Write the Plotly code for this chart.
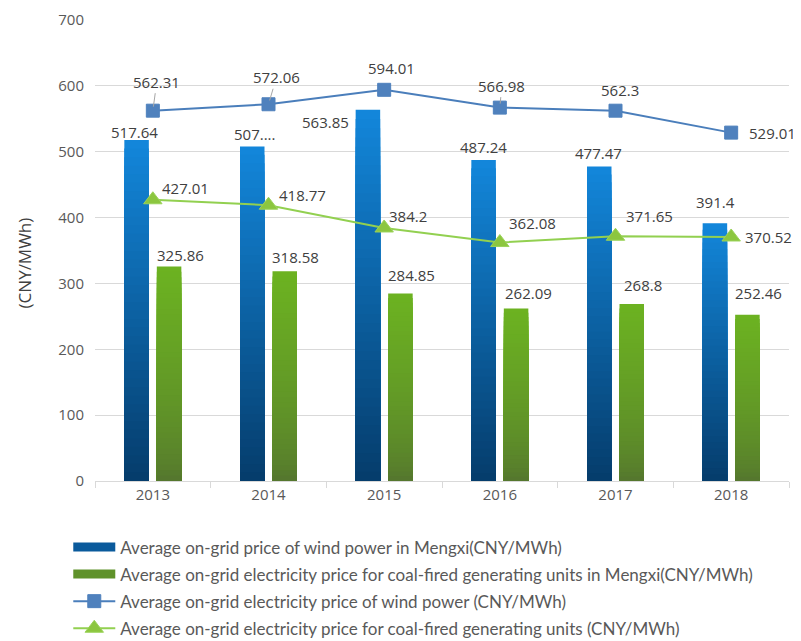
import plotly.graph_objects as go

# ---------------- data ----------------
years = ["2013", "2014", "2015", "2016", "2017", "2018"]
wind_mengxi = [517.64, 507.9, 563.85, 487.24, 477.47, 391.4]
coal_mengxi = [325.86, 318.58, 284.85, 262.09, 268.8, 252.46]
wind_avg = [562.31, 572.06, 594.01, 566.98, 562.3, 529.01]
coal_avg = [427.01, 418.77, 384.2, 362.08, 371.65, 370.52]
wind_mengxi_labels = ["517.64", "507....", "563.85", "487.24", "477.47", "391.4"]

names = [
    "Average on-grid price of wind power in Mengxi(CNY/MWh)",
    "Average on-grid electricity price for coal-fired generating units in Mengxi(CNY/MWh)",
    "Average on-grid electricity price of wind power (CNY/MWh)",
    "Average on-grid electricity price for coal-fired generating units (CNY/MWh)",
]

# ---------------- styling ----------------
LABEL_FONT = dict(family="Open Sans", size=15, color="#404040")
TICK_FONT = dict(family="Open Sans", size=15, color="#595959")
GRID = "#d9d9d9"
N = 40  # gradient bands


def lerp(c1, c2, t):
    a = [int(c1[i:i + 2], 16) for i in (1, 3, 5)]
    b = [int(c2[i:i + 2], 16) for i in (1, 3, 5)]
    return "#%02x%02x%02x" % tuple(round(a[j] + (b[j] - a[j]) * t) for j in range(3))


BLUE_TOP, BLUE_BOT = "#1387db", "#053c6b"
GREEN_TOP, GREEN_BOT = "#6cb221", "#53722f"

fig = go.Figure()


def gradient_bars(values, group, top, bot, ease=1.0):
    # overlapping bars: full bar first (top colour), shorter bars over it
    for i in range(N):
        f = (N - i) / N
        t = ((N - i - 0.5) / N) ** ease
        fig.add_trace(go.Bar(
            x=years, y=[v * f for v in values], offsetgroup=group,
            marker=dict(color=lerp(bot, top, t), line=dict(width=0)),
            showlegend=False, hoverinfo="skip"))


gradient_bars(wind_mengxi, "wind", BLUE_TOP, BLUE_BOT, 1.0)
gradient_bars(coal_mengxi, "coal", GREEN_TOP, GREEN_BOT, 0.6)

# legend stand-ins for the gradient bars
fig.add_trace(go.Scatter(x=[years[0]], y=[None], mode="lines", name=names[0],
                         legendgroup="a", line=dict(color="#0a5a9c", width=9), legendrank=1))
fig.add_trace(go.Scatter(x=[years[0]], y=[None], mode="lines", name=names[1],
                         legendgroup="b", line=dict(color="#5f922a", width=9), legendrank=2))

fig.add_trace(go.Scatter(
    x=years, y=wind_avg, mode="lines+markers", name=names[2], legendrank=3, legendgroup="c",
    line=dict(color="#4a7ebb", width=2),
    marker=dict(symbol="square", size=13, color="#4f81bd", line=dict(color="#4f81bd", width=1))))
fig.add_trace(go.Scatter(
    x=years, y=coal_avg, mode="lines+markers", name=names[3], legendrank=4, legendgroup="d",
    line=dict(color="#92d050", width=2),
    marker=dict(symbol="triangle-up", size=16, color="#8cc63f", line=dict(color="#9bd35a", width=1))))

# ---------------- labels ----------------
BAR_OFF = 16  # px offset of each bar centre from category centre
wind_bar_off = [(-2, -8), (2, -13), (-43, 12), (0, -13), (-1, -14), (0, -21)]
coal_bar_off = [(12, -11), (11, -14), (11, -18), (13, -15), (11, -19), (11, -22)]
wind_line_off = [(4, -29), (8, -27), (7, -22), (2, -22), (4, -21), (41, 0)]
wind_leader = [True, True, False, True, False, False]
coal_line_off = [(33, -12), (34, -10), (24, -12), (33, -20), (34, -20), (37, 0)]

for i, yr in enumerate(years):
    xi = i  # category serial number on the category axis
    dx, dy = wind_bar_off[i]
    fig.add_annotation(x=xi, y=wind_mengxi[i], text=wind_mengxi_labels[i], showarrow=False,
                       xanchor="center", yanchor="middle",
                       xshift=-BAR_OFF + dx, yshift=-dy, font=LABEL_FONT)
    dx, dy = coal_bar_off[i]
    fig.add_annotation(x=xi, y=coal_mengxi[i], text=f"{coal_mengxi[i]:g}", showarrow=False,
                       xanchor="center", yanchor="middle",
                       xshift=BAR_OFF + dx, yshift=-dy, font=LABEL_FONT)
    dx, dy = wind_line_off[i]
    fig.add_annotation(x=xi, y=wind_avg[i], text=f"{wind_avg[i]:g}", showarrow=True,
                       ax=dx, ay=dy, arrowhead=0, arrowwidth=1, standoff=4,
                       arrowcolor="#a6a6a6" if wind_leader[i] else "rgba(0,0,0,0)",
                       font=LABEL_FONT)
    dx, dy = coal_line_off[i]
    fig.add_annotation(x=xi, y=coal_avg[i], text=f"{coal_avg[i]:g}", showarrow=True,
                       ax=dx, ay=dy, arrowhead=0, arrowwidth=1,
                       arrowcolor="rgba(0,0,0,0)", font=LABEL_FONT)

fig.add_annotation(xref="paper", yref="paper", x=-0.101, y=0.474, text="(CNY/MWh)",
                   xanchor="center", yanchor="middle",
                   textangle=-90, showarrow=False,
                   font=dict(family="Open Sans", size=17, color="#404040"))

# page body adds an 8px margin, so the figure is 8px smaller than the window
fig.update_layout(
    width=793, height=633,
    margin=dict(l=87, r=12, t=12, b=160, autoexpand=False),
    paper_bgcolor="white", plot_bgcolor="white",
    barmode="group", bargap=0.438, bargroupgap=0.246,
    showlegend=True,
    legend=dict(x=-0.0385, y=-0.105, xanchor="left", yanchor="top", orientation="v",
                font=dict(family="Lato", size=17, color="#595959"),
                bgcolor="rgba(0,0,0,0)", itemwidth=42, tracegroupgap=2),
    xaxis=dict(type="category", categoryarray=years, categoryorder="array",
               range=[-0.5, len(years) - 0.5], showgrid=False, showline=True,
               linecolor=GRID, linewidth=1,
               ticks="outside", tickson="boundaries", tickcolor=GRID, ticklen=6,
               tickfont=TICK_FONT, tickangle=0),
    yaxis=dict(range=[0, 700], dtick=100, showgrid=True, gridcolor=GRID, gridwidth=1,
               zeroline=False, showline=False, tickfont=TICK_FONT, ticklabelstandoff=10),
)

fig.write_html("out.html")
